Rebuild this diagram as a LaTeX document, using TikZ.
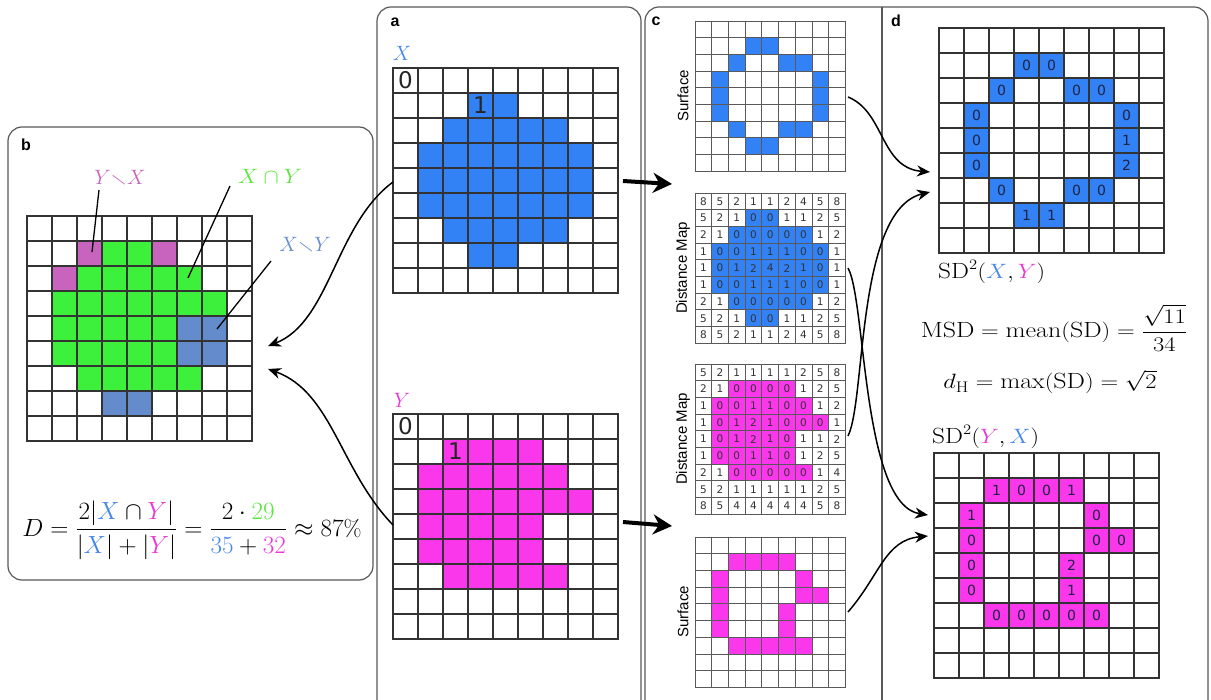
\documentclass[tikz,border=0pt]{standalone}
\usepackage{amsmath,amssymb}
\usepackage{fontspec}
\setsansfont{Liberation Sans}
\newfontfamily\digitfont{DejaVu Sans}
\usetikzlibrary{arrows.meta}
\definecolor{xfill}{RGB}{50,130,245}
\definecolor{yfill}{RGB}{250,55,235}
\definecolor{gfill}{RGB}{60,240,60}
\definecolor{ydiff}{RGB}{200,100,190}
\definecolor{xdiff}{RGB}{100,140,205}
\definecolor{xtext}{RGB}{70,135,235}
\definecolor{ytext}{RGB}{235,55,215}
\definecolor{gtext}{RGB}{90,230,60}
\definecolor{numcol}{RGB}{30,35,70}
\newcommand{\spanfill}[5]{%
  \foreach \rr/\ca/\cb in {#5} {\fill[#4] ({#1+\ca*#3},{#2+\rr*#3}) rectangle ({#1+(\cb+1)*#3},{#2+(\rr+1)*#3});}}
\newcommand{\gridnine}[4]{%
  \foreach \ii in {0,...,9} {\draw[#4] ({#1+\ii*#3},#2) -- ({#1+\ii*#3},{#2+9*#3});
    \draw[#4] (#1,{#2+\ii*#3}) -- ({#1+9*#3},{#2+\ii*#3});}}
\newcommand{\valgrid}[5]{%
  \foreach \row [count=\rr from 0] in {#5} {\foreach \vv [count=\cc from 0] in \row {%
    \node[dmnum] (#4-\rr-\cc) at ({#1+(\cc+0.5)*#3},{#2+(\rr+0.5)*#3}) {\vv};}}}
\newcommand{\cellvals}[5]{%
  \foreach \rr/\cc/\vv in {#5} {\node[dnum] (#4-\rr-\cc) at ({#1+(\cc+0.5)*#3},{#2+(\rr+0.5)*#3}) {\vv};}}
\begin{document}
\begin{tikzpicture}[x=1pt,y=-1pt,
  panelbox/.style={draw=black!65, line width=1.2pt, rounded corners=14pt},
  gline/.style={draw=black!80, line width=1.1pt, line cap=rect},
  cline/.style={draw=black!65, line width=0.8pt, line cap=rect},
  plabel/.style={font=\sffamily\bfseries\fontsize{16}{16}\selectfont, inner sep=0},
  sidelabel/.style={font=\sffamily\fontsize{15}{15}\selectfont, rotate=90, inner sep=0},
  mathbig/.style={font=\fontsize{22}{26}\selectfont, inner sep=0},
  setlabel/.style={font=\fontsize{21}{25}\selectfont, inner sep=0},
  bignum/.style={font=\digitfont\fontsize{23}{23}\selectfont, text=black!85, inner sep=0},
  dmnum/.style={font=\digitfont\fontsize{10.5}{10.5}\selectfont, text=black!80, inner sep=0},
  dnum/.style={font=\digitfont\fontsize{14}{14}\selectfont, text=numcol, inner sep=0},
  curvearrow/.style={draw=black, line width=1.5pt, -{Stealth[length=13pt,width=11pt]}},
  thickarrow/.style={draw=black, line width=4pt, -{Stealth[length=19pt,width=20pt]}},
  leader/.style={draw=black, line width=1.3pt}]
\useasboundingbox (0,0) rectangle (1211,700);
\clip (0,0) rectangle (1211,700);
\fill[white] (0,0) rectangle (1211,700);
% panel boxes
\draw[panelbox] (8,127) rectangle (373,580);
\draw[panelbox] (377,7) rectangle (641,730);
\draw[panelbox] (645,7) rectangle (1208,730);
\draw[draw=black!65, line width=1.2pt] (882,7) -- (882,700);
\node[plabel] (la) at (395,22) {a};
\node[plabel] (lb) at (26,145) {b};
\node[plabel] (lc) at (656,21) {c};
\node[plabel] (ld) at (896,21) {d};
% ---------- panel a ----------
\node[mathbig, text=xtext] (labX) at (402,53) {$X$};
\spanfill{393}{68}{25}{xfill}{1/3/4, 2/2/6, 3/1/7, 4/1/7, 5/1/7, 6/2/6, 7/3/4}
\gridnine{393}{68}{25}{gline}
\node[bignum] (x0) at (405.5,80.5) {0};
\node[bignum] (x1) at (480.5,105.5) {1};
\node[mathbig, text=ytext] (labY) at (402,400) {$Y$};
\spanfill{393}{414}{25}{yfill}{1/2/5, 2/1/6, 3/1/7, 4/1/5, 5/1/5, 6/2/6}
\gridnine{393}{414}{25}{gline}
\node[bignum] (y0) at (405.5,426.5) {0};
\node[bignum] (y1) at (455.5,451.5) {1};
% ---------- panel b ----------
\spanfill{27}{216}{25}{gfill}{1/3/4, 2/2/6, 3/1/7, 4/1/5, 5/1/5, 6/2/6}
\spanfill{27}{216}{25}{ydiff}{1/2/2, 1/5/5, 2/1/1}
\spanfill{27}{216}{25}{xdiff}{4/6/7, 5/6/7, 7/3/4}
\gridnine{27}{216}{25}{gline}
\node[setlabel, text=ydiff] (lYX) at (120,178) {$Y{\smallsetminus}X$};
\node[setlabel, text=gtext, xscale=1.1] (lXY) at (270,176) {$X\cap Y$};
\node[setlabel, text=xdiff] (lXmY) at (305,245) {$X{\smallsetminus}Y$};
\coordinate (pYX) at (92,252);
\coordinate (pXY) at (188,278);
\coordinate (pXmY) at (217,329);
\draw[leader] (99,190) -- (pYX);
\draw[leader] (230,186) -- (pXY);
\draw[leader] (271,261) -- (pXmY);
\node[mathbig, font=\fontsize{23}{27}\selectfont, xscale=1.01] (dform) at (192,530) {$D=\dfrac{2|\textcolor{xtext}{X}\cap\textcolor{ytext}{Y}|}{|\textcolor{xtext}{X}|+|\textcolor{ytext}{Y}|}=\dfrac{2\cdot\textcolor{gtext}{29}}{\textcolor{xtext}{35}+\textcolor{ytext}{32}}\approx 87\%$};
% arrows a -> b
\coordinate (xgw) at (393,182);
\coordinate (ygw) at (393,525);
\coordinate (bin1) at (268,346);
\coordinate (bin2) at (268,369);
\draw[curvearrow] (xgw) .. controls (335,225) and (330,322) .. (bin1);
\draw[curvearrow] (ygw) .. controls (340,470) and (332,392) .. (bin2);
% thick arrows a -> c
\coordinate (ta1) at (623,181);
\coordinate (tb1) at (672,184);
\coordinate (ta2) at (623,522);
\coordinate (tb2) at (672,526);
\draw[thickarrow] (ta1) -- (tb1);
\draw[thickarrow] (ta2) -- (tb2);
% ---------- panel c ----------
\spanfill{695}{21}{16.7}{xfill}{1/3/4, 2/2/2, 2/5/6, 3/1/1, 3/7/7, 4/1/1, 4/7/7, 5/1/1, 5/7/7, 6/2/2, 6/5/6, 7/3/4}
\gridnine{695}{21}{16.7}{cline}
\node[sidelabel] (ls1) at (683,96) {Surface};
\spanfill{695}{193}{16.7}{xfill}{1/3/4, 2/2/6, 3/1/7, 4/1/7, 5/1/7, 6/2/6, 7/3/4}
\gridnine{695}{193}{16.7}{cline}
\valgrid{695}{193}{16.7}{dmx}{{8,5,2,1,1,2,4,5,8},{5,2,1,0,0,1,1,2,5},{2,1,0,0,0,0,0,1,2},{1,0,0,1,1,1,0,0,1},{1,0,1,2,4,2,1,0,1},{1,0,0,1,1,1,0,0,1},{2,1,0,0,0,0,0,1,2},{5,2,1,0,0,1,1,2,5},{8,5,2,1,1,2,4,5,8}}
\node[sidelabel] (ld1) at (683,268) {Distance Map};
\spanfill{695}{364}{16.7}{yfill}{1/2/5, 2/1/6, 3/1/7, 4/1/5, 5/1/5, 6/2/6}
\gridnine{695}{364}{16.7}{cline}
\valgrid{695}{364}{16.7}{dmy}{{5,2,1,1,1,1,2,5,8},{2,1,0,0,0,0,1,2,5},{1,0,0,1,1,0,0,1,2},{1,0,1,2,1,0,0,0,1},{1,0,1,2,1,0,1,1,2},{1,0,0,1,1,0,1,2,5},{2,1,0,0,0,0,0,1,4},{5,2,1,1,1,1,1,2,5},{8,5,4,4,4,4,4,5,8}}
\node[sidelabel] (ld2) at (683,439) {Distance Map};
\spanfill{695}{537}{16.7}{yfill}{1/2/5, 2/1/1, 2/6/6, 3/1/1, 3/6/7, 4/1/1, 4/5/5, 5/1/1, 5/5/5, 6/2/6}
\gridnine{695}{537}{16.7}{cline}
\node[sidelabel] (ls2) at (683,612) {Surface};
% ---------- panel d ----------
\spanfill{939}{28}{25}{xfill}{1/3/4, 2/2/2, 2/5/6, 3/1/1, 3/7/7, 4/1/1, 4/7/7, 5/1/1, 5/7/7, 6/2/2, 6/5/6, 7/3/4}
\gridnine{939}{28}{25}{gline}
\cellvals{939}{28}{25}{dt}{1/3/0,1/4/0,2/2/0,2/5/0,2/6/0,3/1/0,3/7/0,4/1/0,4/7/1,5/1/0,5/7/2,6/2/0,6/5/0,6/6/0,7/3/1,7/4/1}
\node[mathbig, anchor=west, xscale=1.15] (sdxy) at (938,272) {$\mathrm{SD}^2(\textcolor{xtext}{X},\textcolor{ytext}{Y})$};
\node[mathbig, xscale=1.18] (msd) at (1054,328) {$\mathrm{MSD}=\mathrm{mean}(\mathrm{SD})=\dfrac{\sqrt{11}}{34}$};
\node[mathbig, xscale=1.18] (dh) at (1050,382) {$d_{\mathrm{H}}=\max(\mathrm{SD})=\sqrt{2}$};
\node[mathbig, anchor=west, xscale=1.15] (sdyx) at (932,437) {$\mathrm{SD}^2(\textcolor{ytext}{Y},\textcolor{xtext}{X})$};
\spanfill{934}{453}{25}{yfill}{1/2/5, 2/1/1, 2/6/6, 3/1/1, 3/6/7, 4/1/1, 4/5/5, 5/1/1, 5/5/5, 6/2/6}
\gridnine{934}{453}{25}{gline}
\cellvals{934}{453}{25}{db}{1/2/1,1/3/0,1/4/0,1/5/1,2/1/1,2/6/0,3/1/0,3/6/0,3/7/0,4/1/0,4/5/2,5/1/0,5/5/1,6/2/0,6/3/0,6/4/0,6/5/0,6/6/0}
% arrows c -> d
\coordinate (sxe) at (848,97);
\coordinate (dxe) at (848,268);
\coordinate (dye) at (848,436);
\coordinate (sye) at (848,612);
\coordinate (dtin1) at (930,172);
\coordinate (dtin2) at (930,192);
\coordinate (dbin1) at (928,515);
\coordinate (dbin2) at (928,536);
\draw[curvearrow] (sxe) .. controls (885,112) and (880,168) .. (dtin1);
\draw[curvearrow] (dye) .. controls (866,400) and (856,210) .. (dtin2);
\draw[curvearrow] (dxe) .. controls (866,300) and (862,505) .. (dbin1);
\draw[curvearrow] (sye) .. controls (880,575) and (885,540) .. (dbin2);
\end{tikzpicture}
\end{document}
